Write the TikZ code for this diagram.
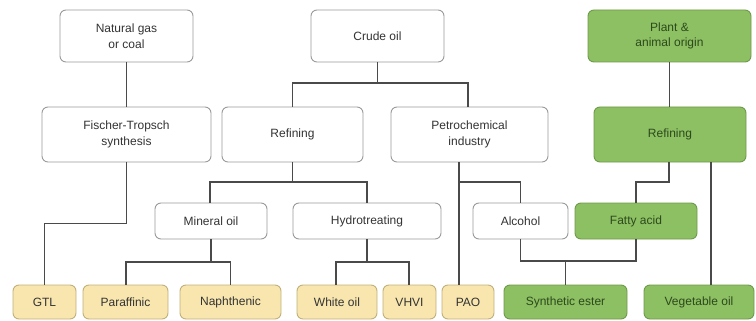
\documentclass[tikz,border=0pt]{standalone}
\usepackage{fontspec}
\setmainfont{Liberation Sans}
\usetikzlibrary{calc}
\definecolor{boxline}{HTML}{9A9A9A}
\definecolor{yelfill}{HTML}{F8E6AE}
\definecolor{yelline}{HTML}{C2B07C}
\definecolor{grnfill}{HTML}{8DBF63}
\definecolor{grnline}{HTML}{6E9A4B}
\definecolor{grntext}{HTML}{2C4A1C}
\definecolor{wire}{HTML}{4A4A4A}
\tikzset{
  box/.style={draw=boxline,fill=white,rounded corners=6pt,line width=0.9pt,
    inner sep=0pt,align=center,text=black!80,
    font=\fontsize{12}{15.5}\selectfont},
  yelbox/.style={box,draw=yelline,fill=yelfill},
  grnbox/.style={box,draw=grnline,fill=grnfill,text=grntext},
  wire/.style={draw=wire,line width=1.1pt},
}
\begin{document}
\begin{tikzpicture}[x=1pt,y=-1pt]
    \useasboundingbox (0,0) rectangle (756,321);

    % sources
    \node[box,minimum width=133pt,minimum height=52pt] (gas) at (126.5,36) {Natural gas\\or coal};
    \node[box,minimum width=133pt,minimum height=52pt] (crude) at (377.5,36) {Crude oil};
    \node[grnbox,minimum width=163pt,minimum height=52pt] (plant) at (669.5,36) {Plant \&\\animal origin};

    % processes
    \node[box,minimum width=169pt,minimum height=55pt] (ft) at (126.5,134.5) {Fischer-Tropsch\\synthesis};
    \node[box,minimum width=141pt,minimum height=55pt] (refin) at (292.5,134.5) {Refining};
    \node[box,minimum width=157pt,minimum height=55pt] (petro) at (469.5,134.5) {Petrochemical\\industry};
    \node[grnbox,minimum width=152pt,minimum height=55pt] (grefin) at (670,134.5) {Refining};

    \node[box,minimum width=112pt,minimum height=36pt] (mineral) at (211,221) {Mineral oil};
    \node[box,minimum width=148pt,minimum height=36pt] (hydro) at (367,221) {Hydrotreating};
    \node[box,minimum width=95pt,minimum height=36pt] (alcohol) at (520.5,221) {Alcohol};
    \node[grnbox,minimum width=122pt,minimum height=36pt] (fatty) at (636,221) {Fatty acid};

    % base oils
    \foreach \n/\x/\w/\t in {gtl/44.5/63/GTL,paraf/125.5/85/Paraffinic,naph/230.5/101/Naphthenic,
        white/337/80/White oil,vhvi/409.5/53/VHVI,pao/468/52/PAO}{
      \node[yelbox,minimum width=\w pt,minimum height=34pt] (\n) at (\x,302) {\t};
    }
    \node[grnbox,minimum width=123pt,minimum height=34pt] (synth) at (565.5,302) {Synthetic ester};
    \node[grnbox,minimum width=110pt,minimum height=34pt] (veg) at (699,302) {Vegetable oil};

    % connectors
    \draw[wire] (gas) -- (ft);
    \coordinate (c1) at (crude.south |- 0,83);
    \draw[wire] (crude.south) -- (c1);
    \draw[wire] (refin.north) |- (c1) -| ([xshift=-1.5pt]petro.north);
    \draw[wire] (plant.south) -- (plant.south |- grefin.north);

    \draw[wire] (ft.south) -- ++(0,61) -| (gtl.north);
    \coordinate (c2) at (refin.south |- 0,182);
    \draw[wire] (refin.south) -- (c2);
    \draw[wire] ([xshift=-1pt]mineral.north) |- (c2) -| (hydro.north);

    \coordinate (c3) at (mineral.south |- 0,262);
    \draw[wire] (mineral.south) -- (c3);
    \draw[wire] ([xshift=0.5pt]paraf.north) |- (c3) -| (naph.north);
    \coordinate (c4) at (hydro.south |- 0,262);
    \draw[wire] (hydro.south) -- (c4);
    \draw[wire] ([xshift=-1pt]white.north) |- (c4) -| ([xshift=-0.5pt]vhvi.north);

    \coordinate (c5) at ([xshift=-9pt]pao.north |- petro.south);
    \draw[wire] (c5) -- ([xshift=-9pt]pao.north);
    \draw[wire] (c5 |- 0,182) -| (alcohol.north);
    \coordinate (c6) at ([xshift=-1pt]grefin.south);
    \draw[wire] (c6) |- (fatty.north |- 0,182) -- (fatty.north);
    \draw[wire] (alcohol.south) |- (0,261 -| fatty.south) -- (fatty.south);
    \draw[wire] (synth.north) -- (synth.north |- 0,261);
    \draw[wire] ([xshift=41pt]grefin.south) -- ([xshift=12pt]veg.north);
\end{tikzpicture}
\end{document}
